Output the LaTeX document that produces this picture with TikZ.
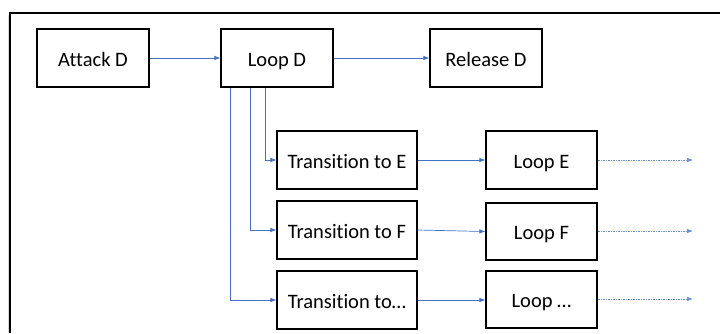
\documentclass[tikz,border=0pt]{standalone}
\usepackage{fontspec}
\setmainfont[Ligatures=NoCommon]{Carlito}
\usetikzlibrary{arrows.meta}
\definecolor{conn}{HTML}{4472C4}
\tikzset{
  box/.style={draw=black, line width=1.2pt, minimum height=58pt, inner sep=0pt, text height=16pt, text depth=0pt, font=\fontsize{20.5}{23}\selectfont},
  wbox/.style={box, minimum width=112pt},
  tbox/.style={box, minimum width=140pt},
  conn/.style={draw=conn, line width=0.7pt, -{Latex[length=6pt,width=4.5pt]}},
  dotconn/.style={conn, draw=conn!80, dash pattern=on 2pt off 1.2pt on 0.6pt off 1.2pt}
}
\begin{document}
\begin{tikzpicture}[x=1pt,y=-1pt]
\useasboundingbox (0,0) rectangle (720,333);
\fill[black!15] (8,15) rectangle (9,333);
\draw[line width=2pt] (10,333) -- (10,13) -- (720,13);
\node[wbox] (AD) at (93,58) {Attack D};
\node[wbox] (LD) at (277,58) {Loop D};
\node[wbox] (RD) at (486,58) {Release D};
\node[tbox] (TE) at (347,160) {Transition to E};
\node[tbox] (TF) at (347,230) {Transition to F};
\node[tbox] (TX) at (347,300) {Transition to\ldots};
\node[wbox, minimum width=111pt] (LE) at (541.5,160) {Loop E};
\node[wbox, minimum width=111pt, minimum height=57pt] (LF) at (541.5,231.5) {Loop F};
\node[wbox, minimum width=111pt, minimum height=57pt] (LX) at (541.5,299.5) {Loop \ldots};
\coordinate (EE) at (693,160);
\coordinate (EF) at (693,231);
\coordinate (EX) at (693,299);
\draw[conn] (AD) -- (LD);
\draw[conn] (LD) -- (RD);
\draw[conn] ([xshift=-12pt]LD.south) |- (TE.west);
\draw[conn] ([xshift=-27pt]LD.south) |- (TF.west);
\draw[conn] ([xshift=-47pt]LD.south) |- (TX.west);
\draw[conn] (TE) -- (LE);
\draw[conn] (TF.east) -- (LF.west);
\draw[conn] (TX.east) -- (LX.west |- TX.east);
\draw[dotconn] (LE) -- (EE);
\draw[dotconn] (LF.east |- EF) -- (EF);
\draw[dotconn] (LX.east |- EX) -- (EX);
\end{tikzpicture}
\end{document}
